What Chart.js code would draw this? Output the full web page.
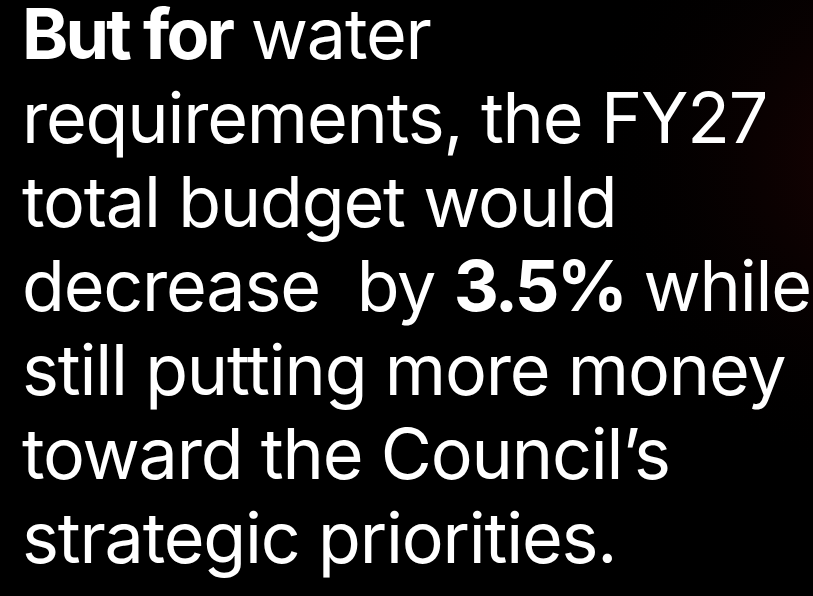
<!DOCTYPE html>
<html>
<head>
<meta charset="utf-8">
<script src="https://cdn.jsdelivr.net/npm/chart.js@4/dist/chart.umd.min.js"></script>
<style>
  html, body { margin: 0; padding: 0; background: #000; }
  #wrap { position: relative; width: 813px; height: 596px; overflow: hidden; }
  #bg { position: absolute; left: 0; top: 0; }
  #txt {
    position: absolute; left: 22px; top: -8px;
    font-family: Inter, Roboto, sans-serif;
    font-size: 70px; line-height: 84px; color: #fff;
    white-space: pre; letter-spacing: -1.2px;
  }
  #txt b { font-weight: 700; letter-spacing: -2.8px; }
</style>
</head>
<body>
<div id="wrap">
  <canvas id="bg" width="813" height="596"></canvas>
  <div id="txt"></div>
</div>
<script>
// text lines, each a list of [text, bold]
const lines = [
  [["But for", true], [" water", false]],
  [["requirements, the FY27", false]],
  [["total budget would", false]],
  [["decrease  by ", false], ["3.5%", true], [" while", false]],
  [["still putting more money", false]],
  [["toward the Council\u2019s", false]],
  [["strategic priorities.", false]]
];

const txt = document.getElementById("txt");
lines.forEach((line) => {
  const div = document.createElement("div");
  line.forEach(([s, bold]) => {
    const el = document.createElement(bold ? "b" : "span");
    el.textContent = s;
    div.appendChild(el);
  });
  txt.appendChild(div);
});

// faint dark red glow along the right edge
const bgPlugin = {
  id: "bg",
  beforeDraw(chart) {
    const { ctx, width, height } = chart;
    ctx.save();
    ctx.fillStyle = "#000";
    ctx.fillRect(0, 0, width, height);
    const g = ctx.createRadialGradient(width + 80, 160, 0, width + 80, 160, 320);
    g.addColorStop(0, "rgba(30,3,3,1)");
    g.addColorStop(1, "rgba(0,0,0,0)");
    ctx.fillStyle = g;
    ctx.fillRect(0, 0, width, height);
    ctx.restore();
  }
};

new Chart(document.getElementById("bg"), {
  type: "bar",
  data: { labels: [], datasets: [] },
  options: {
    responsive: false,
    animation: false,
    plugins: { legend: { display: false }, tooltip: { enabled: false } },
    scales: { x: { display: false }, y: { display: false } }
  },
  plugins: [bgPlugin]
});
</script>
</body>
</html>
